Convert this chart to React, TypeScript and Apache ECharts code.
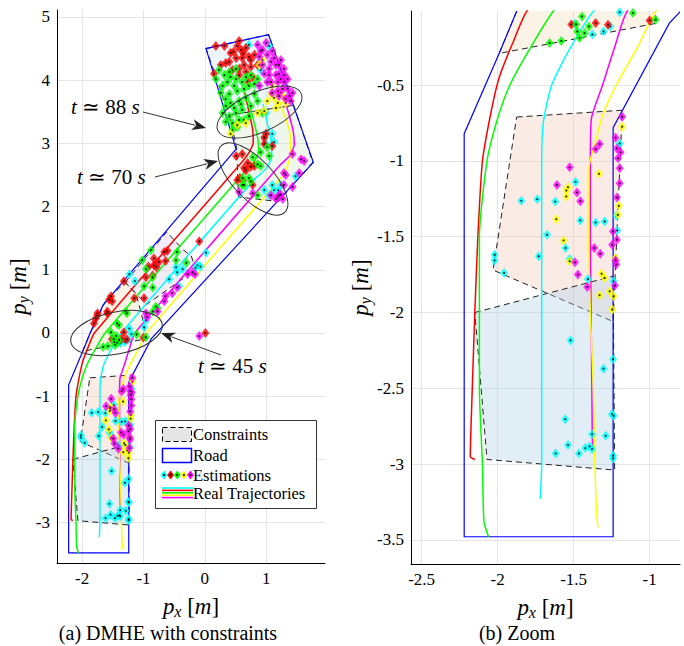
import React, { useEffect, useRef } from 'react';
import * as echarts from 'echarts';

const FONT = 'Liberation Serif';

// ---------- Real trajectories (x, y) in metres ----------
const trajRed = [[-2.15,-2.97],[-2.18,-2.95],[-2.17,-2.6],[-2.15,-2.0],[-2.13,-1.5],[-2.10,-1.0],[-2.04,-0.66],[-1.99,-0.45],[-1.90,-0.22],[-1.80,0.0],[0.62,2.72],[0.73,2.87],[0.79,3.02],[0.78,3.22],[0.72,3.50],[0.65,3.80]];
const trajGreen = [[-2.06,-3.48],[-2.09,-3.38],[-2.10,-3.0],[-2.12,-2.5],[-2.12,-2.0],[-2.12,-1.5],[-2.07,-1.0],[-2.0,-0.72],[-1.92,-0.5],[-1.80,-0.28],[-1.625,0.0],[0.65,2.55],[0.80,2.70],[0.88,2.88],[0.86,3.10],[0.79,3.38],[0.71,3.70]];
const trajCyan = [[-1.72,-3.23],[-1.71,-3.0],[-1.71,-2.0],[-1.71,-1.0],[-1.70,-0.75],[-1.645,-0.5],[-1.52,-0.25],[-1.36,0.0],[0.83,2.45],[1.00,2.60],[1.09,2.80],[1.08,3.05],[1.02,3.32],[0.95,3.62]];
const trajMagenta = [[-1.36,-2.90],[-1.375,-2.88],[-1.38,-2.5],[-1.385,-2.0],[-1.39,-1.5],[-1.39,-1.0],[-1.383,-0.72],[-1.31,-0.5],[-1.23,-0.25],[-1.14,0.0],[1.22,2.65],[1.38,2.80],[1.46,2.98],[1.44,3.20],[1.36,3.50],[1.25,3.85]];
const trajYellow = [[-1.34,-3.42],[-1.35,-3.30],[-1.36,-3.0],[-1.37,-2.5],[-1.39,-2.0],[-1.40,-1.5],[-1.40,-1.05],[-1.35,-0.85],[-1.31,-0.7],[-1.22,-0.5],[-1.08,-0.25],[-0.95,0.0],[1.22,2.43],[1.34,2.62],[1.40,2.85],[1.40,3.10],[1.33,3.36],[1.22,3.66]];

// ---------- Road ----------
const roadPolygon = [[-2.22,-3.48],[-2.22,-0.82],[-1.99,-0.29],[-1.87,0.0],[-1.66,0.44],[0.51,2.91],[0.02,4.50],[1.04,4.72],[1.77,2.70],[-0.87,-0.09],[-1.24,-0.78],[-1.24,-3.48]];

// ---------- Constraints ----------
const consTopBlue = [[0.02,4.50],[1.04,4.72],[1.45,3.60],[0.40,3.45]];
const consTopGreen = [[0.40,3.45],[0.52,2.92],[0.55,2.15],[1.20,2.08],[1.76,2.70],[1.45,3.60]];
const consLavender = [[-1.30,0.80],[-0.62,1.60],[-0.36,1.32],[-0.22,1.22],[-0.15,1.00],[-0.95,0.45],[-1.12,0.62]];
const consCream = [[-1.99,-0.29],[-1.87,0.0],[-1.62,0.50],[-1.30,0.80],[-1.12,0.62],[-1.02,0.25],[-0.95,-0.09]];
const consPink = [[-1.875,-0.71],[-1.18,-0.665],[-1.24,-2.06],[-2.03,-1.72]];
const consBlue = [[-2.15,-2.0],[-1.24,-1.76],[-1.23,-3.04],[-2.07,-2.97]];

// ---------- Estimations ----------
const estCyan = [[0.72,4.56],[1.05,4.54],[0.91,4.16],[1.00,3.48],
  [0.97,3.10],[1.13,3.02],[1.10,3.15],[1.00,2.99],[1.05,2.18],[1.10,2.34],[1.20,2.26],[1.24,2.34],[0.97,2.26],[1.13,2.26],[1.48,2.48],
  [0.02,1.27],[-0.47,1.04],[-0.45,0.96],[-0.36,1.01],[-0.12,1.07],[-0.07,1.05],[-0.15,1.03],[-0.58,0.85],[-0.42,0.74],[-1.23,0.93],[-1.14,0.82],[-0.96,0.20],[-0.99,0.09],[-1.23,0.07],
  [-1.494,-0.094],[-1.377,-0.164],[-1.303,-0.145],[-1.259,-0.112],[-1.197,-0.018],
  [-1.197,-0.884],[-1.844,-1.263],[-1.739,-1.252],[-1.621,-1.268],[-1.487,-1.138],[-1.456,-1.392],[-1.355,-1.406],[-1.296,-1.399],[-1.675,-1.487],[-1.730,-1.629],[-1.553,-1.574],[-1.526,-1.647],[-2.020,-1.619],[-2.020,-1.656],[-1.958,-1.739],[-1.219,-1.362],[-1.213,-1.458],[-1.237,-1.794],[-1.406,-1.779],
  [-1.520,-2.184],[-1.241,-2.309],[-1.303,-2.371],[-1.555,-2.704],[-1.248,-2.671],[-1.237,-2.682],[-1.379,-2.803],[-1.289,-2.814],[-1.537,-2.875],[-1.423,-2.895],[-1.395,-2.884],[-1.379,-2.901],[-1.465,-2.930],[-1.618,-2.930],[-1.241,-2.945],[-1.241,-2.963]];
const estRed = [[0.32,4.54],[0.56,4.62],[0.59,4.48],[0.67,4.51],[0.72,4.37],[0.61,4.35],[0.51,4.35],[0.42,4.43],[0.81,4.40],[0.40,4.29],[0.64,4.24],[0.75,4.21],[0.56,4.18],[0.45,4.16],[0.15,4.10],[0.56,4.08],[0.67,4.13],[0.34,4.27],[0.75,4.32],[0.53,4.54],[0.26,4.24],[0.86,4.24],[0.18,4.54],[0.78,4.05],[0.70,3.98],[0.47,4.45],[0.63,4.42],
  [1.00,3.15],[1.10,2.96],[0.70,2.69],[0.81,2.64],
  [0.51,2.80],[0.61,2.83],[0.64,2.61],[0.67,2.57],[0.75,2.63],[0.57,2.45],[0.53,2.42],[0.62,2.41],[0.78,2.34],[0.97,2.99],[0.97,3.09],
  [-0.09,1.45],[-0.66,1.28],[-0.61,1.30],[-0.83,1.18],[-0.83,1.07],[-0.92,1.05],[-0.79,1.04],[-0.64,1.14],[-0.75,1.12],[-0.96,0.88],[-0.85,0.91],[-1.32,0.82],[-0.99,0.55],[-1.15,0.55],[-1.53,0.58],[-1.56,0.53],[-1.51,0.50],[-1.59,0.34],[-1.59,0.31],[-1.75,0.31],[-1.75,0.28],[-1.78,0.23],[-1.81,0.15],[-1.32,0.01],
  [-1.515,-0.099],[-1.355,-0.090],[-1.274,-0.101],[-1.000,-0.072],[0.01,0.0]];
const estGreen = [[0.23,4.16],[0.32,4.08],[0.40,4.13],[0.51,4.02],[0.61,3.97],[0.48,3.91],[0.37,3.97],[0.26,3.80],[0.40,3.78],[0.53,3.83],[0.64,3.86],[0.72,3.91],[0.81,3.94],[0.67,3.72],[0.56,3.67],[0.42,3.64],[0.34,3.59],[0.29,3.48],[0.40,3.43],[0.51,3.48],[0.61,3.53],[0.75,3.59],[0.86,3.67],[0.45,3.32],[0.56,3.37],[0.34,3.34],[0.64,3.37],[0.45,3.21],[0.53,3.26],[0.75,4.08],[0.86,4.02],[0.81,3.78],[0.72,3.43],[0.94,3.48],[0.18,4.02],[0.29,3.91],[0.51,4.18],[0.67,4.05],[0.42,4.05],[0.34,3.70],[0.48,3.56],[0.59,3.62],
  [0.91,2.86],[0.86,2.67],[1.02,2.94],
  [1.05,2.80],[0.91,2.64],[0.78,2.78],[0.62,2.45],[0.72,2.45],[0.64,2.34],[0.75,2.40],[0.61,2.34],[0.86,2.18],
  [-0.88,1.31],[-1.02,1.15],[-0.96,1.01],[-0.85,0.88],[-0.99,0.74],[-0.47,1.15],[-0.30,1.11],[-0.45,1.28],[-0.80,0.42],[-0.77,0.39],[-0.85,0.34],[-0.85,0.72],[-1.29,0.34],[-1.53,0.01],[-1.40,0.12],[-1.43,0.15],[-1.27,0.31],
  [-1.658,-0.221],[-1.581,-0.208],[-1.476,-0.145],[-1.461,-0.189],[-1.428,-0.156],[-1.483,-0.099],[-1.445,-0.046],[-1.399,-0.112],[-1.110,-0.024],[-0.961,-0.068]];
const estYellow = [[0.89,4.24],[1.02,3.67],[1.08,3.78],[1.13,3.72],[1.19,3.64],[1.32,3.64],[0.97,3.51],[0.86,3.48],[0.67,3.32],[0.53,3.29],[0.42,3.15],[1.16,3.56],[1.24,3.80],[0.94,4.32],[1.10,3.91],[1.29,3.72],
  [-1.180,-0.774],[-1.333,-1.085],[-1.537,-1.173],[-1.548,-1.195],[-1.548,-1.234],[-1.614,-1.384],[-1.566,-1.524],[-1.526,-1.662],[-1.316,-1.744],[-1.296,-1.772],[-1.329,-1.886],[-1.263,-1.860],[-1.237,-1.893],[-1.224,-1.640],[-1.202,-1.296],[-1.208,-1.355],[-1.246,-1.980]];
const estMagenta = [[0.86,4.56],[1.00,4.59],[0.94,4.48],[1.02,4.40],[1.08,4.29],[1.13,4.35],[1.16,4.24],[1.05,4.18],[1.21,4.10],[1.24,4.02],[1.19,3.97],[1.29,3.97],[1.27,3.86],[1.35,3.86],[1.38,3.75],[1.32,3.70],[1.21,3.75],[1.10,3.80],[0.94,4.24],[0.89,4.37],[0.97,4.10],[1.02,3.97],[1.16,4.08],[1.05,4.08],[1.29,4.18],[0.89,3.91],[1.19,3.83],[1.10,4.46],[1.21,4.24],[1.40,3.67],[1.43,3.80],[1.35,4.02],[0.91,4.46],[1.08,3.97],[1.24,4.32],[1.30,4.08],
  [1.29,2.53],[1.43,2.31],[1.29,2.34],[1.19,2.15],[1.21,2.18],[1.16,2.12],[1.24,2.19],[1.27,2.12],[1.43,2.83],[1.54,2.53],[1.57,2.75],[1.62,2.72],[0.56,2.23],[0.78,2.21],[1.08,2.18],[1.32,2.50],
  [-0.20,0.96],[-0.16,0.93],[-0.28,0.93],[-0.45,0.72],[-0.53,0.63],[-0.64,0.58],[-0.66,0.50],[-0.77,0.34],[-0.96,0.31],[-0.94,0.25],[-0.09,-0.05],
  [-1.180,-0.708],[-1.329,-0.888],[-1.355,-0.921],[-1.224,-0.846],[-1.215,-0.917],[-1.191,-0.943],[-1.208,-0.982],[-1.197,-1.048],[-1.526,-1.042],[-1.610,-1.158],[-1.478,-1.208],[-1.456,-1.265],[-1.197,-1.147],[-1.215,-1.241],[-1.241,-1.465],[-1.215,-1.520],[-1.364,-1.574],[-1.325,-1.612],[-1.491,-1.669],[-1.472,-1.750],[-1.410,-1.831],[-1.228,-1.822],[-1.224,-1.656],[-1.219,-1.684],[-1.246,-1.553]];

const C = { cyan: '#00ffff', red: '#ff0000', green: '#00ff00', yellow: '#ffff00', magenta: '#ff00ff', blue: '#0000ff' };

const constraints = [
  { pts: consTopBlue, fill: 'rgba(200,225,245,0.35)' },
  { pts: consTopGreen, fill: 'rgba(210,232,200,0.35)' },
  { pts: consLavender, fill: 'rgba(220,200,235,0.35)' },
  { pts: consCream, fill: 'rgba(245,225,190,0.4)' },
  { pts: consPink, fill: 'rgba(240,200,180,0.35)' },
  { pts: consBlue, fill: 'rgba(170,205,230,0.35)' },
];
const trajectories = [
  { d: trajRed, c: C.red }, { d: trajGreen, c: C.green }, { d: trajCyan, c: C.cyan },
  { d: trajMagenta, c: C.magenta }, { d: trajYellow, c: C.yellow },
];
const estimations = [
  { d: estCyan, c: C.cyan }, { d: estRed, c: C.red }, { d: estGreen, c: C.green },
  { d: estYellow, c: C.yellow }, { d: estMagenta, c: C.magenta },
];

function polySeries(gi: number, pts: number[][], style: any, z: number) {
  return {
    type: 'custom', xAxisIndex: gi, yAxisIndex: gi, clip: true, silent: true, z,
    data: [pts[0]],
    renderItem: (_p: any, api: any) => ({
      type: 'polygon',
      shape: { points: pts.map((p) => api.coord(p)) },
      style,
    }),
  };
}

function buildSeries(gi: number) {
  const s: any[] = [];
  constraints.forEach((c) =>
    s.push(polySeries(gi, c.pts, { fill: c.fill, stroke: '#222', lineWidth: 1, lineDash: [6, 4] }, 1)));
  s.push(polySeries(gi, roadPolygon, { fill: 'none', stroke: C.blue, lineWidth: 1.2 }, 2));
  trajectories.forEach((t) =>
    s.push({
      type: 'line', xAxisIndex: gi, yAxisIndex: gi, data: t.d, showSymbol: false, smooth: 0.2,
      lineStyle: { color: t.c, width: 1.5 }, clip: true, silent: true, z: 3,
    }));
  estimations.forEach((e) => {
    s.push({
      type: 'scatter', xAxisIndex: gi, yAxisIndex: gi, data: e.d, symbol: 'diamond', symbolSize: [8, 10],
      itemStyle: { color: e.c }, clip: true, silent: true, z: 4,
    });
    s.push({
      type: 'scatter', xAxisIndex: gi, yAxisIndex: gi, data: e.d, symbol: 'circle', symbolSize: 2.2,
      itemStyle: { color: '#000' }, clip: true, silent: true, z: 4,
    });
  });
  return s;
}

const nameRich = {
  i: { fontStyle: 'italic', fontSize: 23, fontFamily: FONT, color: '#000' },
  s: { fontStyle: 'italic', fontSize: 16, fontFamily: FONT, color: '#000', padding: [10, 0, 0, 0] },
  n: { fontSize: 23, fontFamily: FONT, color: '#000' },
};

function axis(gi: number, min: number, max: number, step: number, name: string, gap: number, vertical: boolean) {
  return {
    type: 'value', gridIndex: gi, min, max, minInterval: step, maxInterval: step,
    name, nameLocation: 'middle', nameGap: gap, nameRotate: vertical ? 90 : 0,
    nameTextStyle: { fontFamily: FONT, fontSize: 23, color: '#000', rich: nameRich },
    axisLine: { show: true, onZero: false, lineStyle: { color: '#000', width: 1 } },
    axisTick: { show: false },
    axisLabel: {
      fontFamily: FONT, fontSize: 17, color: '#000', margin: 7,
      formatter: (v: number) => {
        const k = v / step;
        return Math.abs(k - Math.round(k)) < 1e-6 ? String(parseFloat(v.toFixed(2))) : '';
      },
    },
    splitLine: { show: true, showMinLine: false, showMaxLine: false, lineStyle: { color: '#e4e4e4', width: 1 } },
  };
}

function arrow(x1: number, y1: number, x2: number, y2: number) {
  const dx = x2 - x1, dy = y2 - y1, L = Math.hypot(dx, dy), ux = dx / L, uy = dy / L;
  const hl = 14, hw = 5.5;
  const bx = x2 - ux * hl, by = y2 - uy * hl;
  return [
    { type: 'line', z: 50, shape: { x1, y1, x2: bx + ux * 3, y2: by + uy * 3 }, style: { stroke: '#333', lineWidth: 1 } },
    { type: 'polygon', z: 50, shape: { points: [[x2, y2], [bx - uy * hw, by + ux * hw], [bx + ux * 4, by + uy * 4], [bx + uy * hw, by - ux * hw]] }, style: { fill: '#222' } },
  ];
}

function ellipse(cx: number, cy: number, rx: number, ry: number, rot: number) {
  return { type: 'ellipse', z: 50, x: cx, y: cy, rotation: rot, shape: { cx: 0, cy: 0, rx, ry }, style: { fill: 'none', stroke: '#333', lineWidth: 1 } };
}

function label(x: number, y: number, num: string) {
  return {
    type: 'text', z: 50, x, y,
    style: {
      text: '{i|t} {n|≃ ' + num + '} {i|s}', verticalAlign: 'middle', align: 'left',
      rich: {
        i: { fontStyle: 'italic', fontSize: 21, fontFamily: FONT, fill: '#000' },
        n: { fontSize: 21, fontFamily: FONT, fill: '#000' },
      },
      fontSize: 21, fontFamily: FONT, fill: '#000',
    },
  };
}

function legendGraphic() {
  const els: any[] = [];
  els.push({ type: 'rect', z: 100, shape: { x: 155.5, y: 420.5, width: 161, height: 88 }, style: { fill: '#fff', stroke: '#333', lineWidth: 1 } });
  els.push({ type: 'rect', z: 101, shape: { x: 162.5, y: 427.5, width: 29, height: 14 }, style: { fill: '#e6e6e6', stroke: '#000', lineWidth: 1, lineDash: [5, 3] } });
  els.push({ type: 'rect', z: 101, shape: { x: 162.5, y: 448.5, width: 29, height: 14 }, style: { fill: '#fff', stroke: C.blue, lineWidth: 1.5 } });
  const mk = [C.cyan, C.red, C.green, C.yellow, C.magenta];
  mk.forEach((c, i) => {
    const x = 164 + i * 6.6, y = 475;
    els.push({ type: 'polygon', z: 101, shape: { points: [[x, y - 4.5], [x + 3.5, y], [x, y + 4.5], [x - 3.5, y]] }, style: { fill: c } });
    els.push({ type: 'circle', z: 102, shape: { cx: x, cy: y, r: 1 }, style: { fill: '#000' } });
  });
  mk.forEach((c, i) => {
    const y = 488 + i * 2.4;
    els.push({ type: 'line', z: 101, shape: { x1: 162, y1: y, x2: 193, y2: y }, style: { stroke: c, lineWidth: 1.6 } });
  });
  const texts = [['Constraints', 434], ['Road', 455], ['Estimations', 475], ['Real Trajectories', 493]];
  texts.forEach(([t, y]) =>
    els.push({ type: 'text', z: 102, x: 193, y: y as number, style: { text: t as string, fontSize: 16.5, fontFamily: FONT, fill: '#000', verticalAlign: 'middle', align: 'left' } }));
  return els;
}

export default function App() {
  const ref = useRef<HTMLDivElement>(null);
  useEffect(() => {
    if (!ref.current) return;
    const chart = echarts.init(ref.current, null, { renderer: 'svg' });
    const xName = '{i|p}{s|x} {n|[}{i|m}{n|]}';
    const yName = '{i|p}{s|y} {n|[}{i|m}{n|]}';
    const option: any = {
      animation: false,
      backgroundColor: '#fff',
      textStyle: { fontFamily: FONT },
      grid: [
        { left: 57, top: 10, width: 268, height: 553, containLabel: false },
        { left: 411, top: 11, width: 269, height: 553, containLabel: false },
      ],
      xAxis: [
        axis(0, -2.41, 1.96, 1, xName, 30, false),
        axis(1, -2.57, -0.80, 0.5, xName, 30, false),
      ],
      yAxis: [
        axis(0, -3.64, 5.11, 1, yName, 22, true),
        axis(1, -3.66, -0.01, 0.5, yName, 30, true),
      ],
      series: [...buildSeries(0), ...buildSeries(1)],
      graphic: [
        ellipse(259.5, 112, 45.6, 20, 0.42),
        ellipse(253, 179, 46, 20, -0.81),
        ellipse(116.5, 333, 46.6, 21, 0.2),
        ...arrow(143, 112, 206, 128),
        ...arrow(155, 177, 218, 161),
        ...arrow(221, 355, 161, 333),
        label(71, 107, '88'),
        label(77, 177, '70'),
        label(198, 366, '45'),
        ...legendGraphic(),
        { type: 'text', z: 50, x: 168, y: 633, style: { text: '(a) DMHE with constraints', fontSize: 20, fontFamily: FONT, fill: '#000', align: 'center', verticalAlign: 'middle' } },
        { type: 'text', z: 50, x: 517, y: 633, style: { text: '(b) Zoom', fontSize: 20, fontFamily: FONT, fill: '#000', align: 'center', verticalAlign: 'middle' } },
      ],
    };
    chart.setOption(option);
    return () => chart.dispose();
  }, []);
  return <div ref={ref} style={{ position: 'absolute', left: 0, top: 0, width: 684, height: 646, background: '#fff' }} />;
}
